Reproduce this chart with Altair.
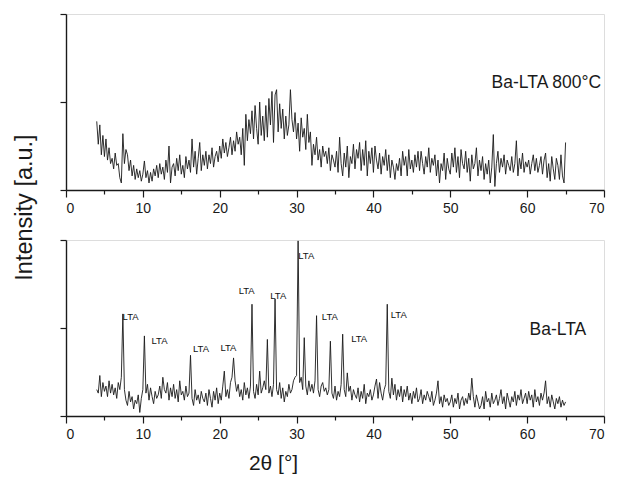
import altair as alt
import pandas as pd

# ---------------- data ----------------
START = 4.0   # first 2-theta sample (deg)
STEP = 0.2    # sampling step (deg)

# Ba-LTA 800 C (amorphous pattern), intensity in a.u.
top_vals = [
    78, 52, 74, 40, 62, 38, 58, 34, 48, 30,
    36, 24, 42, 28, 30, 14, 8, 64, 30, 46,
    40, 22, 34, 16, 28, 12, 24, 14, 22, 10,
    18, 33, 14, 22, 8, 20, 10, 24, 16, 28,
    14, 30, 18, 26, 12, 34, 20, 50, 8, 26,
    30, 16, 36, 22, 40, 18, 28, 14, 38, 24,
    34, 20, 58, 26, 44, 18, 36, 54, 22, 40,
    28, 44, 24, 40, 30, 48, 26, 38, 44, 32,
    50, 36, 58, 42, 54, 38, 48, 60, 40, 56,
    44, 66, 52, 60, 40, 70, 28, 86, 56, 80,
    64, 90, 58, 96, 70, 52, 100, 62, 84, 56,
    96, 60, 104, 74, 112, 54, 108, 114, 66, 98,
    70, 92, 58, 84, 62, 74, 114, 80, 66, 88,
    58, 76, 44, 82, 60, 70, 46, 86, 54, 66,
    28, 52, 40, 60, 34, 46, 26, 50, 38, 44,
    30, 48, 22, 40, 34, 26, 44, 20, 60, 30,
    16, 42, 26, 50, 14, 38, 30, 52, 24, 46,
    36, 54, 22, 46, 28, 56, 16, 44, 30, 48,
    20, 50, 34, 24, 42, 18, 38, 28, 46, 22,
    40, 14, 34, 26, 12, 30, 22, 36, 16, 44,
    28, 38, 16, 46, 24, 34, 20, 40, 26, 44,
    22, 44, 30, 18, 38, 26, 48, 20, 36, 28,
    40, 16, 34, 8, 30, 22, 42, 12, 36, 24,
    18, 42, 26, 48, 20, 38, 14, 46, 30, 24,
    44, 20, 36, 10, 40, 24, 30, 48, 16, 34,
    22, 38, 12, 30, 18, 34, 8, 26, 63, 4,
    30, 44, 20, 36, 26, 40, 18, 34, 28, 22,
    38, 20, 30, 56, 16, 36, 24, 42, 20, 32,
    26, 34, 18, 30, 40, 22, 36, 20, 28, 38,
    18, 34, 42, 14, 30, 10, 38, 24, 12, 36,
    28, 12, 40, 16, 8, 54,
]

# Ba-LTA (crystalline pattern), intensity in a.u.
bot_vals = [
    30, 26, 46, 22, 38, 28, 34, 22, 40, 26,
    36, 24, 32, 20, 38, 30, 44, 116, 30, 18,
    12, 28, 16, 22, 8, 18, 14, 24, 4, 20,
    30, 91, 26, 36, 18, 32, 22, 14, 28, 20,
    24, 34, 20, 44, 30, 26, 38, 18, 32, 22,
    36, 20, 30, 16, 40, 24, 28, 18, 34, 22,
    26, 69, 20, 12, 30, 18, 24, 14, 28, 20,
    16, 26, 12, 30, 20, 10, 28, 18, 32, 14,
    26, 18, 34, 51, 22, 30, 20, 38, 44, 66,
    40, 28, 36, 22, 30, 18, 38, 24, 32, 20,
    34, 127, 28, 20, 36, 24, 51, 26, 32, 40,
    30, 87, 26, 34, 22, 36, 133, 30, 24, 38,
    20, 32, 16, 28, 22, 36, 26, 30, 40, 44,
    46, 199, 38, 44, 30, 89, 34, 24, 40, 28,
    36, 26, 40, 114, 30, 22, 34, 38, 28, 32,
    24, 30, 85, 26, 20, 34, 18, 28, 22, 36,
    93, 30, 22, 49, 28, 34, 18, 30, 24, 20,
    32, 16, 28, 20, 36, 14, 26, 22, 30, 18,
    24, 34, 42, 20, 38, 26, 18, 30, 36, 127,
    28, 20, 43, 24, 36, 18, 30, 22, 34, 16,
    30, 22, 34, 18, 26, 14, 28, 20, 32, 16,
    20, 30, 14, 24, 18, 28, 22, 16, 28, 12,
    18, 26, 40, 14, 22, 10, 24, 16, 20, 12,
    16, 24, 10, 20, 14, 26, 8, 18, 22, 12,
    20, 14, 26, 18, 43, 22, 10, 24, 16, 8,
    12, 22, 8, 28, 16, 20, 10, 26, 14, 18,
    24, 12, 20, 30, 14, 22, 8, 26, 18, 10,
    22, 16, 28, 12, 24, 18, 30, 14, 20, 26,
    14, 28, 18, 24, 10, 30, 16, 22, 12, 26,
    18, 26, 40, 14, 22, 10, 24, 16, 8, 20,
    14, 22, 10, 18, 12, 16,
]

two_theta = [round(START + STEP * i, 1) for i in range(len(top_vals))]

# peak annotations (bottom panel)
lta_x = [7.36, 11.13, 16.53, 20.09, 22.47, 26.58, 30.22, 33.29, 37.1, 42.25]
lta_y = [112, 85, 76, 77, 142, 136, 182, 112, 88, 115]
lta_text = ["LTA"] * len(lta_x)

# sample labels
top_label = ["Ba-LTA 800°C"]
top_label_x = [62.5]
top_label_y = [122]
bot_label = ["Ba-LTA"]
bot_label_x = [64.0]
bot_label_y = [98]

x_ticks = [0, 5, 10, 15, 20, 25, 30, 35, 40, 45, 50, 55, 60, 65, 70]
y_ticks = [0, 100, 200]

# ---------------- chart ----------------
FONT = "Liberation Sans"
INK = "#1a1a1a"
W, H = 538, 176


def x_enc(title_on):
    kw = dict(
        values=x_ticks,
        labelExpr="datum.value % 10 === 0 ? datum.label : ''",
        tickSize={"condition": {"test": "datum.value % 10 !== 0", "value": 4}, "value": 7},
        tickColor=INK, tickWidth=1.2,
        domainColor=INK, domainWidth=1.4,
        labelFont=FONT, labelFontSize=14, labelColor=INK, labelPadding=4,
        grid=False,
    )
    if title_on:
        kw.update(title="2θ [°]", titleFont=FONT, titleFontSize=21, titleFontWeight="normal",
                  titleColor=INK, titleX=207, titleY=47, titleBaseline="middle", titleAlign="center")
    else:
        kw.update(title=None)
    return alt.X("two_theta:Q", scale=alt.Scale(domain=[0, 70], nice=False, zero=False), axis=alt.Axis(**kw))


def y_enc(title_on):
    kw = dict(
        values=y_ticks, labels=False, tickSize=6, tickColor=INK, tickWidth=1.2,
        domainColor=INK, domainWidth=1.4, grid=False,
    )
    if title_on:
        kw.update(title="Intensity [a.u.]", titleFont=FONT, titleFontSize=23.5, titleFontWeight="normal",
                  titleColor=INK, titleX=-42, titleY=193, titleBaseline="middle", titleAlign="center",
                  titleAngle=270)
    else:
        kw.update(title=None)
    return alt.Y("intensity:Q", scale=alt.Scale(domain=[0, 200], nice=False), axis=alt.Axis(**kw))


def panel(values, big_text, big_x, big_y, big_size, peak_df, xt, yt):
    line_df = pd.DataFrame({"two_theta": two_theta, "intensity": values})
    line = alt.Chart(line_df).mark_line(color=INK, strokeWidth=0.9).encode(x=x_enc(xt), y=y_enc(yt))
    big_df = pd.DataFrame({"two_theta": big_x, "intensity": big_y, "label": big_text})
    big = alt.Chart(big_df).mark_text(font=FONT, fontSize=big_size, color=INK, align="center",
                                      baseline="middle").encode(x=x_enc(xt), y=y_enc(yt), text="label:N")
    layers = [line, big]
    if peak_df is not None:
        pk = alt.Chart(peak_df).mark_text(font=FONT, fontSize=9.5, color="#111111", align="left",
                                          baseline="middle").encode(x=x_enc(xt), y=y_enc(yt), text="label:N")
        layers.append(pk)
    return alt.layer(*layers).properties(width=W, height=H)


peaks_df = pd.DataFrame({"two_theta": lta_x, "intensity": lta_y, "label": lta_text})

top = panel(top_vals, top_label, top_label_x, top_label_y, 17.5, None, False, True)
bottom = panel(bot_vals, bot_label, bot_label_x, bot_label_y, 17.5, peaks_df, True, False)

chart = alt.vconcat(top, bottom, spacing=50, bounds="flush").properties(
    padding={"left": 3, "top": 4, "right": 5, "bottom": 0}
).configure_view(stroke=None).configure(background="white")

chart.save("out.html", embed_options={"renderer": "svg", "actions": False})
